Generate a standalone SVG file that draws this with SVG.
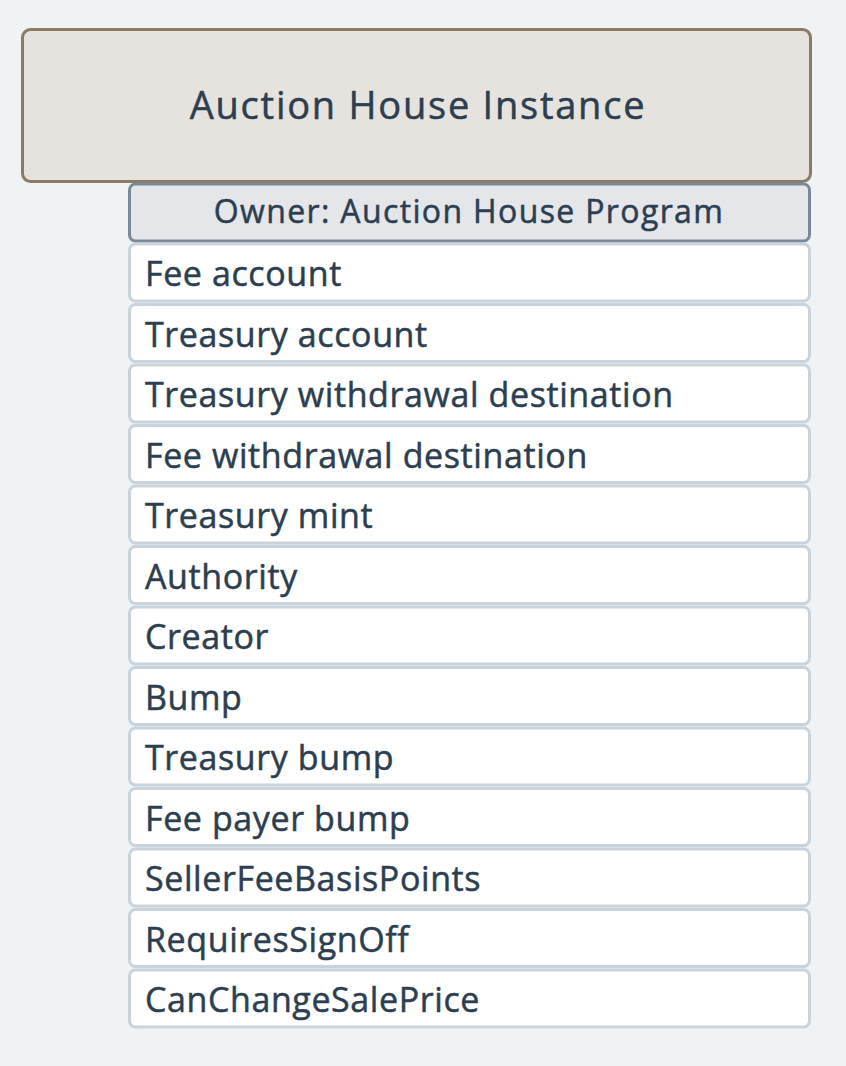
<svg xmlns="http://www.w3.org/2000/svg" width="846" height="1066" viewBox="0 0 846 1066">
<style>
.t{font-family:"Open Sans","Noto Sans","Liberation Sans",sans-serif;fill:#2c3e50;stroke:#2c3e50;stroke-width:0.5}
.row rect{fill:#ffffff;stroke:#c9d3dc;stroke-width:3}
.row text{font-size:34px;letter-spacing:0.6px}
</style>
<rect width="846" height="1066" fill="#eff3f6"/>
<g id="instance">
<rect x="22.5" y="29.5" width="788" height="152" rx="8" fill="#e6e3de" stroke="#8a7b62" stroke-width="3"/>
<text class="t" x="418" y="119" text-anchor="middle" font-size="38" letter-spacing="1.76">Auction House Instance</text>
</g>
<g id="owner">
<rect x="129.5" y="184" width="680" height="57" rx="6" fill="#e4e6ea" stroke="#7b8897" stroke-width="3"/>
<text class="t" x="469" y="223" text-anchor="middle" font-size="32" letter-spacing="1.36">Owner: Auction House Program</text>
</g>
<g id="fields" class="t">
<g id="f1" class="row"><rect x="129.5" y="244" width="680" height="57" rx="6"/><text x="145" y="286">Fee account</text></g>
<g id="f2" class="row"><rect x="129.5" y="304.5" width="680" height="57" rx="6"/><text x="145" y="346.5">Treasury account</text></g>
<g id="f3" class="row"><rect x="129.5" y="365" width="680" height="57" rx="6"/><text x="145" y="407">Treasury withdrawal destination</text></g>
<g id="f4" class="row"><rect x="129.5" y="425.5" width="680" height="57" rx="6"/><text x="145" y="467.5">Fee withdrawal destination</text></g>
<g id="f5" class="row"><rect x="129.5" y="486" width="680" height="57" rx="6"/><text x="145" y="528">Treasury mint</text></g>
<g id="f6" class="row"><rect x="129.5" y="546.5" width="680" height="57" rx="6"/><text x="145" y="588.5">Authority</text></g>
<g id="f7" class="row"><rect x="129.5" y="607" width="680" height="57" rx="6"/><text x="145" y="649">Creator</text></g>
<g id="f8" class="row"><rect x="129.5" y="667.5" width="680" height="57" rx="6"/><text x="145" y="709.5">Bump</text></g>
<g id="f9" class="row"><rect x="129.5" y="728" width="680" height="57" rx="6"/><text x="145" y="770">Treasury bump</text></g>
<g id="f10" class="row"><rect x="129.5" y="788.5" width="680" height="57" rx="6"/><text x="145" y="830.5">Fee payer bump</text></g>
<g id="f11" class="row"><rect x="129.5" y="849" width="680" height="57" rx="6"/><text x="145" y="891">SellerFeeBasisPoints</text></g>
<g id="f12" class="row"><rect x="129.5" y="909.5" width="680" height="57" rx="6"/><text x="145" y="951.5">RequiresSignOff</text></g>
<g id="f13" class="row"><rect x="129.5" y="970" width="680" height="57" rx="6"/><text x="145" y="1012">CanChangeSalePrice</text></g>
</g>
</svg>
